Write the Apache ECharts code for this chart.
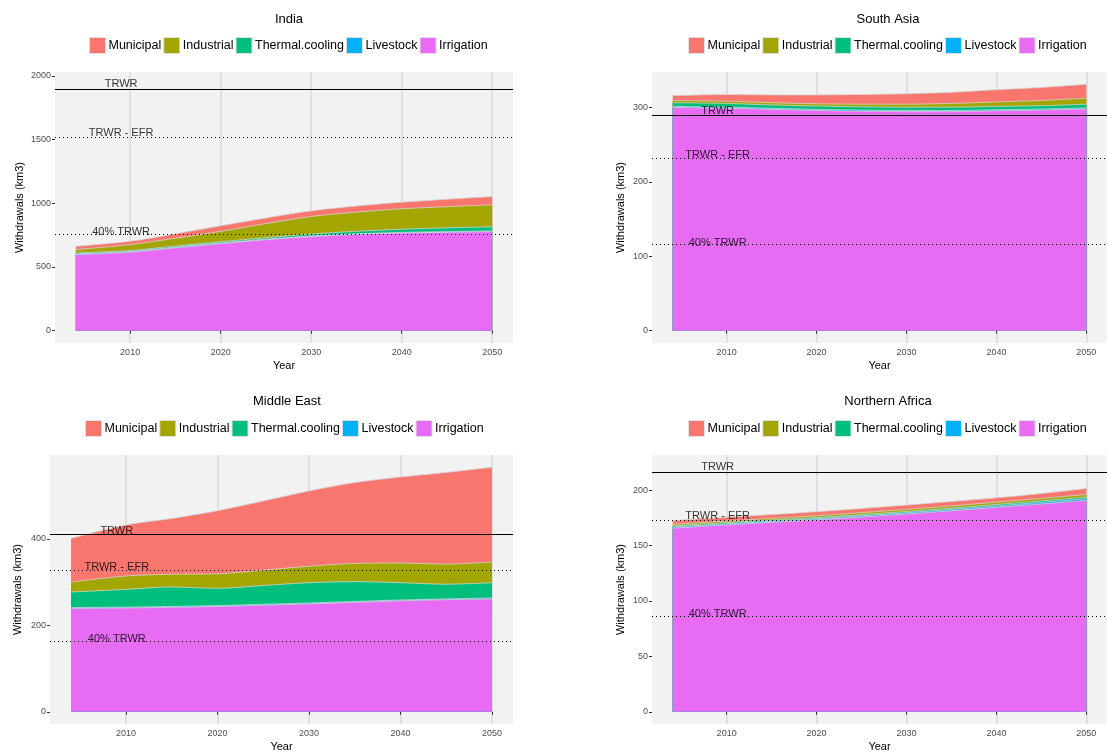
<!DOCTYPE html>
<html>
<head>
<meta charset="utf-8">
<title>Water withdrawals by sector</title>
<script src="https://cdn.jsdelivr.net/npm/echarts@6/dist/echarts.min.js"></script>
<style>
    html, body { margin: 0; padding: 0; background: #fff; }
    #canvas { width: 1107px; height: 753px; }
</style>
</head>
<body>
<div id="canvas"></div>
<script>
// years of the projection and the labelled ticks
var years = [2004, 2010, 2015, 2020, 2025, 2030, 2035, 2040, 2045, 2050];
var yearTicks = [2010, 2020, 2030, 2040, 2050];

// legend order (top of the stack first) and ggplot hue colours
var sectors = ['Municipal', 'Industrial', 'Thermal.cooling', 'Livestock', 'Irrigation'];
var sectorColors = ['#F8766D', '#A3A500', '#00BF7D', '#00B0F6', '#E76BF3'];

// reference lines
var refNames = ['TRWR', 'TRWR - EFR', '40% TRWR'];

// India (km3)
var indiaIrrigation = [597, 616, 650, 683, 713, 738, 755, 766, 772, 777];
var indiaLivestock = [5, 5, 5, 5, 5, 5, 5, 5, 5, 5];
var indiaThermal = [8, 8, 9, 10, 12, 15, 20, 25, 30, 33];
var indiaIndustrial = [26, 46, 61, 81, 110, 138, 150, 160, 166, 172];
var indiaMunicipal = [26, 26, 35, 44, 44, 44, 48, 52, 58, 65];
var indiaRefs = [1895, 1517, 758];
var indiaTicks = [0, 500, 1000, 1500, 2000];

// South Asia (km3)
var saIrrigation = [300, 299, 297.5, 296, 295, 294.5, 294.5, 295.5, 296.5, 298];
var saLivestock = [1.5, 1.5, 1.5, 1.5, 1.5, 1.5, 1.5, 1.5, 1.5, 1.5];
var saThermal = [5, 5, 4.5, 4.5, 4.5, 4.5, 4.5, 4.5, 4.5, 5];
var saIndustrial = [3, 3, 3, 3, 3.5, 4, 5, 6, 7, 8];
var saMunicipal = [6.5, 9, 10.5, 12, 13, 14, 15, 16.5, 17.5, 18.7];
var saRefs = [290, 232, 116];
var saTicks = [0, 100, 200, 300];

// Middle East (km3)
var meIrrigation = [239, 240, 241.5, 243.5, 246.5, 249.5, 253, 256.5, 259, 261];
var meLivestock = [2, 2, 2, 2, 2, 2, 2, 2, 2, 2];
var meThermal = [36, 41, 45, 40, 43.5, 47, 46, 40, 34, 35.5];
var meIndustrial = [23, 31, 29.5, 33.5, 35.5, 38, 42, 45.5, 46.5, 48];
var meMunicipal = [101, 118, 129, 146, 160, 174, 187, 199, 212, 219];
var meRefs = [410, 328, 164];
var meTicks = [0, 200, 400];

// Northern Africa (km3)
var naIrrigation = [165.7, 168.7, 171, 173.2, 175.8, 178.5, 181.4, 184.5, 187.6, 190.8];
var naLivestock = [1, 1, 1, 1.1, 1.1, 1.2, 1.2, 1.3, 1.4, 1.5];
var naThermal = [1, 1, 1, 1, 1, 1.1, 1.2, 1.3, 1.4, 1.5];
var naIndustrial = [1.5, 1.5, 1.6, 1.7, 1.8, 1.9, 2, 2.1, 2.2, 2.3];
var naMunicipal = [3.4, 3.4, 3.4, 3.6, 3.8, 3.9, 4, 3.9, 4.4, 5.4];
var naRefs = [216.4, 173.2, 86.6];
var naTicks = [0, 50, 100, 150, 200];

var regions = [
    { title: 'India', refs: indiaRefs, ticks: indiaTicks,
      values: { Irrigation: indiaIrrigation, Livestock: indiaLivestock, 'Thermal.cooling': indiaThermal, Industrial: indiaIndustrial, Municipal: indiaMunicipal } },
    { title: 'South Asia', refs: saRefs, ticks: saTicks,
      values: { Irrigation: saIrrigation, Livestock: saLivestock, 'Thermal.cooling': saThermal, Industrial: saIndustrial, Municipal: saMunicipal } },
    { title: 'Middle East', refs: meRefs, ticks: meTicks,
      values: { Irrigation: meIrrigation, Livestock: meLivestock, 'Thermal.cooling': meThermal, Industrial: meIndustrial, Municipal: meMunicipal } },
    { title: 'Northern Africa', refs: naRefs, ticks: naTicks,
      values: { Irrigation: naIrrigation, Livestock: naLivestock, 'Thermal.cooling': naThermal, Industrial: naIndustrial, Municipal: naMunicipal } }
];

// panel layout (px)
var layout = [
    { left: 55, top: 72, width: 458, height: 271, titleX: 284, titleTop: 8, legendLeft: 84, legendTop: 32, nameGap: 30 },
    { left: 652, top: 72, width: 463, height: 271, titleX: 883, titleTop: 8, legendLeft: 683, legendTop: 32, nameGap: 26 },
    { left: 50, top: 455, width: 463, height: 272, titleX: 282, titleTop: 390, legendLeft: 80, legendTop: 415, nameGap: 27 },
    { left: 652, top: 455, width: 463, height: 272, titleX: 883, titleTop: 390, legendLeft: 683, legendTop: 415, nameGap: 26 }
];

var stackOrder = ['Irrigation', 'Livestock', 'Thermal.cooling', 'Industrial', 'Municipal'];
var xSpan = years[years.length - 1] - years[0];
var xMin = years[0] - 0.05 * xSpan;
var xMax = years[years.length - 1] + 0.05 * xSpan;
var labelYear = 2009;

function plainNumber(v) {
    return String(v);
}

var myChart = echarts.init(document.getElementById('canvas'));

var option = {
    animation: false,
    textStyle: { fontFamily: 'Liberation Sans, Arial, sans-serif' },
    title: [], legend: [], grid: [], xAxis: [], yAxis: [], series: []
};

regions.forEach(function (r, i) {
    var L = layout[i];

    // running totals, bottom of the stack first
    var tops = {};
    var running = years.map(function () { return 0; });
    stackOrder.forEach(function (name) {
        running = running.map(function (s, k) { return s + r.values[name][k]; });
        tops[name] = running;
    });
    var maxTotal = Math.max.apply(null, running);
    // same padding rule as ggplot (5% each side)
    var hi = Math.max(maxTotal, r.refs[0] * 1.02);

    option.title.push({
        text: r.title, left: L.titleX, top: L.titleTop, textAlign: 'center',
        textStyle: { fontSize: 13, fontWeight: 'normal', color: '#000' }
    });

    option.legend.push({
        data: sectors, left: L.legendLeft, top: L.legendTop, icon: 'rect',
        itemWidth: 16, itemHeight: 16, itemGap: 2, selectedMode: false,
        itemStyle: { borderColor: '#e0e0e0', borderWidth: 1 },
        textStyle: { fontSize: 12.5, color: '#000', padding: [0, 0, 0, -2] }
    });

    option.grid.push({
        left: L.left, top: L.top, width: L.width, height: L.height,
        show: true, backgroundColor: '#f2f2f2', borderWidth: 0, containLabel: false
    });

    option.xAxis.push({
        gridIndex: i, type: 'value', min: xMin, max: xMax,
        name: 'Year', nameLocation: 'middle', nameGap: 17,
        nameTextStyle: { fontSize: 11, color: '#000' },
        axisLine: { show: false },
        axisTick: { show: true, length: 3, customValues: yearTicks, lineStyle: { color: '#333' } },
        axisLabel: { customValues: yearTicks, formatter: plainNumber, fontSize: 9, color: '#4d4d4d', margin: 5 },
        splitLine: { show: true, lineStyle: { color: '#d9d9d9', width: 1.5 } }
    });

    option.yAxis.push({
        gridIndex: i, type: 'value', min: -0.05 * hi, max: 1.05 * hi,
        name: 'Withdrawals (km3)', nameLocation: 'middle', nameGap: L.nameGap,
        nameTextStyle: { fontSize: 11, color: '#000' },
        axisLine: { show: false },
        axisTick: { show: true, length: 3, customValues: r.ticks, lineStyle: { color: '#333' } },
        axisLabel: { customValues: r.ticks, formatter: plainNumber, fontSize: 9, color: '#4d4d4d', margin: 4 },
        splitLine: { show: false }
    });

    // cumulative areas drawn from the top of the stack down, so each lower band covers the one above
    stackOrder.slice().reverse().forEach(function (name) {
        var col = sectorColors[sectors.indexOf(name)];
        option.series.push({
            type: 'line', name: name, xAxisIndex: i, yAxisIndex: i,
            smooth: 0.3, symbol: 'none', silent: true,
            data: years.map(function (y, k) { return [y, tops[name][k]]; }),
            itemStyle: { color: col },
            lineStyle: { color: '#d4d4d4', width: 0.8 },
            areaStyle: { color: col, opacity: 1 },
            emphasis: { disabled: true }
        });
    });

    // reference lines and their labels
    option.series.push({
        type: 'scatter', name: 'refs' + i, xAxisIndex: i, yAxisIndex: i,
        symbolSize: 1, silent: true, z: 6,
        itemStyle: { color: 'rgba(0,0,0,0)' },
        data: refNames.map(function (n, k) { return { name: n, value: [labelYear, r.refs[k] * 1.02] }; }),
        label: { show: true, position: 'inside', formatter: '{b}', fontSize: 11, color: '#000' },
        markLine: {
            silent: true, symbol: 'none', label: { show: false },
            data: r.refs.map(function (v, k) {
                return {
                    yAxis: v,
                    lineStyle: { color: '#000', width: 1, type: k === 0 ? 'solid' : [1, 3], opacity: 1 }
                };
            })
        }
    });
});

myChart.setOption(option);
window.onresize = myChart.resize;
</script>
</body>
</html>
